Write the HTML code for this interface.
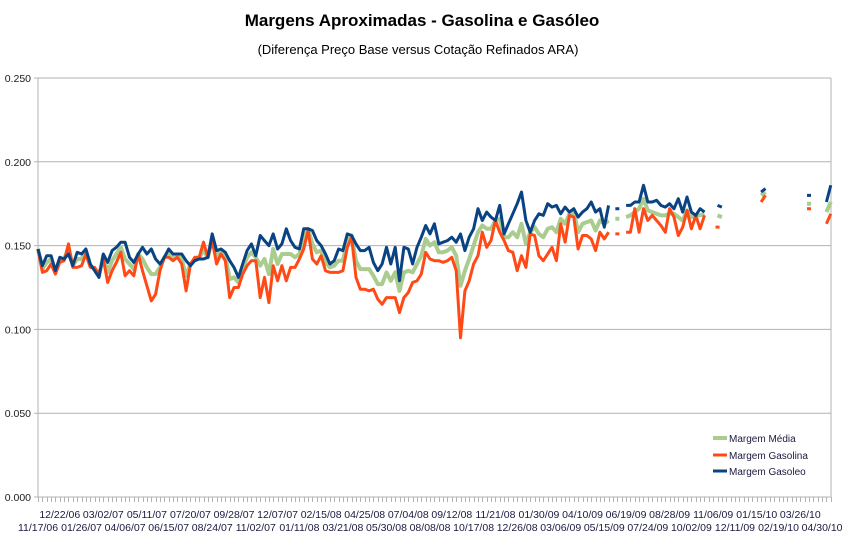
<!DOCTYPE html>
<html><head><meta charset="utf-8"><style>
html,body{margin:0;padding:0;background:#fff;}
svg{display:block;font-family:"Liberation Sans",sans-serif;}
</style></head><body>
<svg id="chart" width="844" height="535" viewBox="0 0 844 535">
<text x="422" y="26" text-anchor="middle" font-size="17" font-weight="bold" fill="#000">Margens Aproximadas - Gasolina e Gasóleo</text>
<text x="418" y="54" text-anchor="middle" font-size="13" fill="#000">(Diferença Preço Base versus Cotação Refinados ARA)</text>
<g id="grid"></g><g id="axes"></g><g id="series"></g>
<g>
<line x1="713" y1="438" x2="727" y2="438" stroke="#aacc8f" stroke-width="4"/>
<text x="729" y="442" font-size="10" fill="#1a1a40">Margem Média</text>
<line x1="713" y1="455" x2="727" y2="455" stroke="#ff4a17" stroke-width="3"/>
<text x="729" y="459" font-size="10" fill="#1a1a40">Margem Gasolina</text>
<line x1="713" y1="471" x2="727" y2="471" stroke="#0a4383" stroke-width="3"/>
<text x="729" y="475" font-size="10" fill="#1a1a40">Margem Gasoleo</text>
</g>
</svg>
<script>
const dateLabels = ["11/17/06","12/22/06","01/26/07","03/02/07","04/06/07","05/11/07","06/15/07","07/20/07","08/24/07","09/28/07","11/02/07","12/07/07","01/11/08","02/15/08","03/21/08","04/25/08","05/30/08","07/04/08","08/08/08","09/12/08","10/17/08","11/21/08","12/26/08","01/30/09","03/06/09","04/10/09","05/15/09","06/19/09","07/24/09","08/28/09","10/02/09","11/06/09","12/11/09","01/15/10","02/19/10","03/26/10","04/30/10"];
const yTicks = [0,0.05,0.10,0.15,0.20,0.25];
const yTickLabels = ["0.000","0.050","0.100","0.150","0.200","0.250"];
const N = null;
const gasoleo = [0.148,0.138,0.144,0.144,0.135,0.143,0.142,0.145,0.138,0.146,
0.145,0.148,0.139,0.135,0.131,0.145,0.140,0.147,0.149,0.152,
0.152,0.143,0.140,0.145,0.149,0.145,0.148,0.142,0.139,0.143,
0.148,0.145,0.145,0.145,0.141,0.138,0.141,0.142,0.142,0.143,
0.157,0.147,0.148,0.146,0.141,0.137,0.131,0.139,0.147,0.151,
0.144,0.156,0.153,0.150,0.157,0.148,0.151,0.160,0.153,0.149,
0.148,0.160,0.160,0.159,0.153,0.150,0.145,0.139,0.141,0.148,
0.147,0.157,0.156,0.151,0.147,0.147,0.149,0.140,0.135,0.139,
0.149,0.139,0.149,0.129,0.149,0.148,0.139,0.149,0.155,0.162,
0.157,0.163,0.151,0.152,0.153,0.155,0.152,0.157,0.147,0.155,
0.160,0.172,0.165,0.170,0.167,0.165,0.174,0.157,0.163,0.169,
0.175,0.182,0.165,0.158,0.165,0.169,0.168,0.175,0.173,0.174,
0.169,0.173,0.170,0.172,0.167,0.170,0.172,0.176,0.170,0.172,
0.161,0.174,N,0.172,N,0.174,0.174,0.176,0.176,0.186,
0.176,0.176,0.177,0.174,0.173,0.175,0.172,0.178,0.170,0.179,
0.170,0.168,0.172,0.170,N,N,0.174,0.173,N,N,
N,N,N,N,N,N,0.182,0.184,N,N,
N,N,N,N,N,N,N,0.180,N,N,
N,0.176,0.186];
const gasolina = [0.148,0.134,0.135,0.139,0.133,0.140,0.141,0.151,0.137,0.137,
0.138,0.145,0.137,0.137,0.133,0.142,0.128,0.135,0.140,0.146,
0.132,0.135,0.132,0.145,0.135,0.126,0.117,0.121,0.135,0.143,
0.143,0.141,0.143,0.139,0.123,0.139,0.143,0.143,0.152,0.143,
0.153,0.139,0.145,0.141,0.119,0.125,0.125,0.133,0.138,0.141,
0.141,0.119,0.131,0.116,0.138,0.129,0.138,0.129,0.137,0.137,
0.142,0.148,0.159,0.142,0.139,0.144,0.135,0.134,0.134,0.134,
0.135,0.149,0.155,0.131,0.124,0.124,0.123,0.124,0.118,0.115,
0.119,0.119,0.119,0.110,0.119,0.122,0.128,0.129,0.133,0.146,
0.142,0.141,0.141,0.140,0.141,0.143,0.135,0.095,0.123,0.129,
0.139,0.144,0.158,0.149,0.153,0.165,0.158,0.153,0.147,0.146,
0.135,0.144,0.137,0.157,0.156,0.144,0.141,0.145,0.149,0.141,
0.163,0.152,0.168,0.167,0.148,0.156,0.156,0.154,0.147,0.158,
0.154,0.158,N,0.157,N,0.158,0.158,0.172,0.158,0.172,
0.165,0.168,0.165,0.162,0.158,0.172,0.167,0.156,0.161,0.171,
0.160,0.168,0.160,0.168,N,N,0.161,N,N,N,
N,N,N,N,N,N,0.176,0.180,N,N,
N,N,N,N,N,N,N,0.172,N,N,
N,0.163,0.169];
const media = [0.148,0.136,0.140,0.142,0.134,0.142,0.142,0.148,0.138,0.142,
0.142,0.147,0.138,0.136,0.132,0.144,0.134,0.141,0.145,0.149,
0.142,0.139,0.136,0.145,0.142,0.137,0.133,0.133,0.137,0.143,
0.146,0.143,0.144,0.142,0.132,0.139,0.142,0.143,0.147,0.143,
0.155,0.143,0.147,0.144,0.130,0.131,0.128,0.136,0.143,0.146,
0.143,0.138,0.142,0.133,0.148,0.139,0.145,0.145,0.145,0.143,
0.145,0.154,0.160,0.151,0.146,0.147,0.140,0.137,0.138,0.141,
0.141,0.153,0.156,0.141,0.136,0.136,0.136,0.132,0.127,0.127,
0.134,0.129,0.134,0.123,0.134,0.135,0.134,0.139,0.144,0.154,
0.150,0.152,0.146,0.146,0.147,0.149,0.144,0.126,0.135,0.142,
0.150,0.158,0.162,0.160,0.160,0.165,0.166,0.155,0.155,0.158,
0.155,0.163,0.151,0.158,0.161,0.157,0.155,0.160,0.161,0.158,
0.166,0.163,0.169,0.170,0.158,0.163,0.164,0.165,0.159,0.165,
0.163,0.165,N,0.166,N,0.167,0.168,0.170,0.172,0.178,
0.171,0.170,0.169,0.168,0.168,0.169,0.169,0.167,0.165,0.171,
0.167,0.168,0.168,0.169,N,N,0.168,0.167,N,N,
N,N,N,N,N,N,0.180,0.182,N,N,
N,N,N,N,N,N,N,0.175,N,N,
N,0.170,0.176];

const NS = "http://www.w3.org/2000/svg";
const X0 = 38, XSTEP = 4.356, PLOT_R = 831, Y0 = 497, YTOP = 78, YMAX = 0.25;
function xs(i){ return X0 + i * XSTEP; }
function ys(v){ return Y0 - (v / YMAX) * (Y0 - YTOP); }
function mk(tag, attrs, parent){ const e = document.createElementNS(NS, tag); for (const k in attrs) e.setAttribute(k, attrs[k]); parent.appendChild(e); return e; }

const grid = document.getElementById('grid');
const axes = document.getElementById('axes');
yTicks.forEach((v, k) => {
  const y = ys(v);
  const gl = mk('line', {x1: X0 - 4, y1: y, x2: PLOT_R, y2: y, stroke: '#b3b3b3', 'stroke-width': 1}, grid);
  
  
  const t = mk('text', {x: 31, y: y + 4, 'text-anchor': 'end', 'font-size': 10.5, fill: '#1a1a1a'}, axes);
  t.textContent = yTickLabels[k];
  
  
});
const la = mk('line', {x1: X0, y1: YTOP, x2: X0, y2: Y0, stroke: '#b3b3b3', 'stroke-width': 1}, axes);


const ra = mk('line', {x1: PLOT_R, y1: YTOP, x2: PLOT_R, y2: Y0, stroke: '#b3b3b3', 'stroke-width': 1}, axes);


let tk = '';
for (let i = 0; i < gasoleo.length; i++) { const x = Math.round(xs(i)) + 0.5; tk += `M${x},${Y0}V${Y0 + 5}`; }
const ticks = mk('path', {d: tk, stroke: '#b3b3b3', 'stroke-width': 1, fill: 'none'}, axes);


dateLabels.forEach((d, k) => {
  const t = mk('text', {x: xs(k * 5), y: (k % 2) ? 518 : 531, 'text-anchor': 'middle', 'font-size': 10.5, fill: '#1a1a40'}, axes);
  t.textContent = d;
  
  
});

const sg = document.getElementById('series');
function drawSeries(vals, color, width, name){
  const g = mk('g', {}, sg);
  
  
  let d = '', run = [];
  const flush = () => {
    if (run.length === 1) { const [x, y] = run[0]; d += `M${x - 2},${y}H${x + 2}`; }
    else if (run.length > 1) { d += 'M' + run.map(p => p[0].toFixed(1) + ',' + p[1].toFixed(1)).join('L'); }
    run = [];
  };
  vals.forEach((v, i) => { if (v === null) flush(); else run.push([xs(i), ys(v)]); });
  flush();
  const p = mk('path', {d: d, stroke: color, 'stroke-width': width, fill: 'none', 'stroke-linejoin': 'round'}, g);
  
  
}
drawSeries(media, '#aacc8f', 4, 'series-margem-media');
drawSeries(gasolina, '#ff4a17', 3, 'series-margem-gasolina');
drawSeries(gasoleo, '#0a4383', 3, 'series-margem-gasoleo');
</script>
</body></html>
